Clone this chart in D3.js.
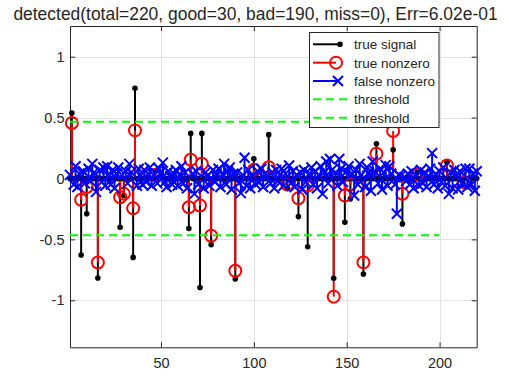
<!DOCTYPE html>
<html><head><meta charset="utf-8">
<script src="https://cdn.jsdelivr.net/npm/d3@7"></script>
<style>
body{margin:0;background:#fff}
svg{display:block}
text{font-family:"Liberation Sans",Arial,Helvetica,sans-serif;fill:#262626}
</style>
</head><body><svg id="c" width="509" height="386"></svg>
<script>
// ---------------- data ----------------
const N = 220;
const supportIdx = [2,7,10,16,28,30,35,36,47,65,66,71,72,77,90,100,108,118,124,129,143,149,152,159,166,175,180,188,204,213];
const trueValues = [0.537,-0.628,-0.29,-0.817,-0.40,-0.14,-0.648,0.74,0.06,-0.41,0.37,-0.895,0.37,-0.543,-0.826,0.162,0.36,-0.08,-0.313,-0.56,-0.82,-0.36,-0.167,-0.785,0.285,0.236,-0.373,0.05,0.134,-0.05];
// estimated signal, index 1..220
const estimate = [
 0.03,0.455,-0.05,0.10,-0.07,0.04,-0.175,0.06,-0.04,-0.07,
 0.08,-0.02,0.12,0.05,-0.11,-0.69,0.07,-0.03,0.09,-0.06,
 0.10,0.02,-0.05,0.07,-0.08,0.04,0.09,-0.154,0.03,-0.126,
 0.06,-0.04,0.12,0.05,-0.245,0.395,-0.06,0.08,0.02,-0.05,
 0.07,-0.03,0.04,0.09,-0.06,0.03,0.03,-0.04,0.08,0.05,
 0.13,-0.03,-0.07,0.06,0.02,-0.05,0.04,0.07,-0.06,0.03,
 0.10,-0.04,0.05,-0.08,-0.236,0.154,0.04,-0.126,0.06,-0.05,
 -0.222,0.121,-0.08,0.05,0.02,-0.06,-0.47,0.07,-0.03,0.04,
 0.08,-0.07,0.03,0.12,-0.05,0.06,0.09,-0.09,0.04,-0.757,
 0.05,-0.04,-0.12,0.03,0.17,-0.06,0.07,-0.08,0.02,0.072,
 -0.05,0.06,-0.03,0.08,-0.07,0.04,0.02,0.093,-0.04,0.05,
 -0.08,0.07,-0.02,0.03,0.08,-0.06,0.04,-0.05,0.107,-0.04,
 0.06,-0.07,0.03,-0.162,0.05,-0.09,0.07,-0.03,-0.058,0.04,
 0.09,-0.05,0.06,-0.08,0.03,0.10,-0.126,0.05,0.14,-0.04,
 0.16,0.07,-0.97,0.05,-0.06,0.16,0.08,-0.03,-0.14,0.06,
 0.10,-0.05,0.04,-0.14,0.07,-0.05,0.12,0.03,-0.689,-0.07,
 0.09,0.05,-0.10,0.14,0.06,0.203,-0.04,0.08,-0.09,0.05,
 0.11,-0.06,0.10,0.04,0.39,-0.05,-0.29,0.03,0.02,-0.126,
 0.01,-0.02,0.04,-0.05,0.06,-0.08,0.03,0.03,-0.06,0.07,
 -0.04,0.05,-0.07,0.02,0.08,0.208,-0.05,0.04,-0.08,0.06,
 -0.03,0.09,-0.06,0.107,-0.126,0.05,-0.08,0.07,0.03,-0.09,
 0.06,-0.04,-0.03,0.08,-0.07,0.08,-0.05,0.04,-0.10,0.06
];
const threshold = 0.465;
const thresholdRange = [1, 200];
const xDomain = [1, 220];
const yDomain = [-1.386, 1.252];
const xTicks = [50, 100, 150, 200];
const yTicks = [-1, -0.5, 0, 0.5, 1];
const titleText = "detected(total=220, good=30, bad=190, miss=0), Err=6.02e-01";
const legendLabels = ["true signal", "true nonzero", "false nonzero", "threshold", "threshold"];

// ---------------- derived ----------------
const idxAll = d3.range(1, N + 1);
const supportSet = new Set(supportIdx);
const trueFull = idxAll.map(i => { const k = supportIdx.indexOf(i); return {i, v: k >= 0 ? trueValues[k] : 0}; });
const goodPts = supportIdx.map(i => ({i, v: estimate[i - 1]}));
const badPts = idxAll.filter(i => !supportSet.has(i)).map(i => ({i, v: estimate[i - 1]}));

// ---------------- layout ----------------
const svg = d3.select("#c");
const P = {l: 70, r: 476.7, t: 26, b: 347.3};
const x = d3.scaleLinear().domain(xDomain).range([P.l, P.r]);
const y = d3.scaleLinear().domain(yDomain).range([P.b, P.t]);
const AX = "#262626";

// grid
const grid = svg.append("g");
grid.selectAll(".gx").data(xTicks).join("line")
  .attr("x1", d => Math.round(x(d)) + 0.5).attr("x2", d => Math.round(x(d)) + 0.5)
  .attr("y1", P.t).attr("y2", P.b).attr("stroke", "#e2e2e2").attr("stroke-width", 1);
grid.selectAll(".gy").data(yTicks).join("line")
  .attr("y1", d => Math.round(y(d)) + 0.5).attr("y2", d => Math.round(y(d)) + 0.5)
  .attr("x1", P.l).attr("x2", P.r).attr("stroke", "#e2e2e2").attr("stroke-width", 1);

// axes
const fmt = d => String(d);
function styleAxis(g) {
  g.select(".domain").attr("stroke", AX);
  g.selectAll(".tick line").attr("stroke", AX);
  g.selectAll("text").attr("fill", AX).style("font-size", "14.5px").style("font-family", '"Liberation Sans",Arial,sans-serif');
}
svg.append("g").attr("transform", `translate(0,${P.b})`)
  .call(d3.axisBottom(x).tickValues(xTicks).tickFormat(fmt).tickSizeInner(-5).tickSizeOuter(0).tickPadding(10)).call(styleAxis);
svg.append("g").attr("transform", `translate(0,${P.t})`)
  .call(d3.axisTop(x).tickValues(xTicks).tickFormat("").tickSizeInner(-5).tickSizeOuter(0)).call(styleAxis);
svg.append("g").attr("transform", `translate(${P.l},0)`)
  .call(d3.axisLeft(y).tickValues(yTicks).tickFormat(fmt).tickSizeInner(-5).tickSizeOuter(0).tickPadding(5.5)).call(styleAxis);
svg.append("g").attr("transform", `translate(${P.r},0)`)
  .call(d3.axisRight(y).tickValues(yTicks).tickFormat("").tickSizeInner(-5).tickSizeOuter(0)).call(styleAxis);

// data
const data = svg.append("g");

// true signal (black stems)
data.append("g").selectAll("line").data(trueFull.filter(d => d.v !== 0)).join("line")
  .attr("x1", d => x(d.i)).attr("x2", d => x(d.i)).attr("y1", y(0)).attr("y2", d => y(d.v))
  .attr("stroke", "#000").attr("stroke-width", 2);
// true nonzero (red stems)
data.append("g").selectAll("line").data(goodPts).join("line")
  .attr("x1", d => x(d.i)).attr("x2", d => x(d.i)).attr("y1", y(0)).attr("y2", d => y(d.v))
  .attr("stroke", "#ff0000").attr("stroke-width", 2);
// black markers
data.append("g").selectAll("circle").data(trueFull).join("circle")
  .attr("cx", d => x(d.i)).attr("cy", d => y(d.v)).attr("r", 2.8).attr("fill", "#000");
// red circles
data.append("g").selectAll("circle").data(goodPts).join("circle")
  .attr("cx", d => x(d.i)).attr("cy", d => y(d.v)).attr("r", 6)
  .attr("fill", "none").attr("stroke", "#ff0000").attr("stroke-width", 2);
// false nonzero (blue)
data.append("g").selectAll("line").data(badPts).join("line")
  .attr("x1", d => x(d.i)).attr("x2", d => x(d.i)).attr("y1", y(0)).attr("y2", d => y(d.v))
  .attr("stroke", "#0000ff").attr("stroke-width", 2);
const xs = 5;
data.append("g").selectAll("path").data(badPts).join("path")
  .attr("d", d => { const cx = x(d.i), cy = y(d.v); return `M${cx-xs},${cy-xs}L${cx+xs},${cy+xs}M${cx-xs},${cy+xs}L${cx+xs},${cy-xs}`; })
  .attr("stroke", "#0000ff").attr("stroke-width", 2).attr("fill", "none");
// thresholds
data.append("g").selectAll("line").data([threshold, -threshold]).join("line")
  .attr("x1", x(thresholdRange[0])).attr("x2", x(thresholdRange[1]))
  .attr("y1", d => y(d)).attr("y2", d => y(d))
  .attr("stroke", "#00ff00").attr("stroke-width", 2).attr("stroke-dasharray", "8,5");

// legend
const L = {x: 309.5, y: 32.5, w: 129.5, h: 95, row: 18.35, first: 44.3};
const lg = svg.append("g");
lg.append("rect").attr("x", L.x).attr("y", L.y).attr("width", L.w).attr("height", L.h)
  .attr("fill", "#fff").attr("stroke", AX).attr("stroke-width", 1);
legendLabels.forEach((lab, k) => {
  const cy = L.first + k * L.row;
  const g = lg.append("g");
  if (k === 0) {
    g.append("line").attr("x1", 313).attr("x2", 340).attr("y1", cy).attr("y2", cy).attr("stroke", "#000").attr("stroke-width", 2);
    g.append("circle").attr("cx", 340).attr("cy", cy).attr("r", 2.8).attr("fill", "#000");
  } else if (k === 1) {
    g.append("line").attr("x1", 313).attr("x2", 336).attr("y1", cy).attr("y2", cy).attr("stroke", "#ff0000").attr("stroke-width", 2);
    g.append("circle").attr("cx", 336).attr("cy", cy).attr("r", 6).attr("fill", "none").attr("stroke", "#ff0000").attr("stroke-width", 2);
  } else if (k === 2) {
    g.append("line").attr("x1", 313).attr("x2", 338).attr("y1", cy).attr("y2", cy).attr("stroke", "#0000ff").attr("stroke-width", 2);
    g.append("path").attr("d", `M${338-xs},${cy-xs}L${338+xs},${cy+xs}M${338-xs},${cy+xs}L${338+xs},${cy-xs}`)
      .attr("stroke", "#0000ff").attr("stroke-width", 2);
  } else {
    g.append("line").attr("x1", 313).attr("x2", 351).attr("y1", cy).attr("y2", cy)
      .attr("stroke", "#00ff00").attr("stroke-width", 2).attr("stroke-dasharray", "8,5");
  }
  g.append("text").attr("x", 354).attr("y", cy).attr("dy", "0.36em")
    .style("font-size", "13.5px").text(lab);
});

// title
const t = svg.append("text").attr("x", 255.5).attr("y", 19.5).attr("text-anchor", "middle")
  .style("font-size", "17px").attr("fill", "#000").text(titleText);
const w = t.node().getComputedTextLength();
t.style("font-size", (17 * 485 / w).toFixed(2) + "px");
</script>
</body></html>
